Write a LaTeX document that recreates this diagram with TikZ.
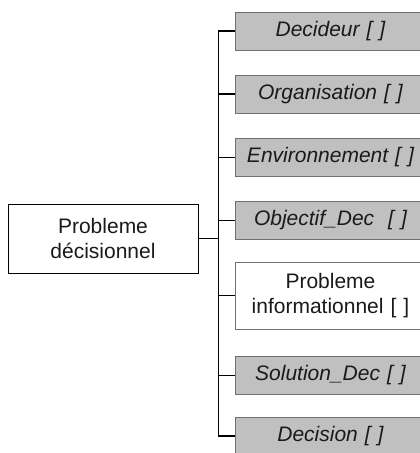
\documentclass[tikz,border=0pt]{standalone}
\usepackage{fontspec}
\setmainfont{Liberation Sans}
\definecolor{boxgray}{HTML}{C0C0C0}
\definecolor{edgegray}{HTML}{707070}
\definecolor{txt}{HTML}{1A1A1A}
\tikzset{
  base/.style={draw=edgegray, line width=0.9pt, inner sep=0pt, align=center,
    text=txt, font=\fontsize{21}{25}\selectfont},
  graybox/.style={base, fill=boxgray, anchor=west, minimum width=190pt,
    minimum height=38pt, font=\fontsize{21}{25}\selectfont\itshape, text width=186pt},
  whitebox/.style={base, fill=white, anchor=west, minimum width=190pt,
    minimum height=67pt, text width=186pt},
  rootbox/.style={base, draw=black, fill=white, minimum width=190pt, minimum height=69pt},
  link/.style={draw=black, line width=1.4pt}
}
\begin{document}
\begin{tikzpicture}[x=1pt,y=-1pt]
\clip (0,0) rectangle (420,453);
\fill[white] (0,0) rectangle (420,453);
\node[rootbox] (root) at (103,238.5) {Probleme\\décisionnel};
\node[graybox] (n1) at (235,31) {Decideur [ ]};
\node[graybox] (n2) at (235,94) {Organisation [ ]};
\node[graybox] (n3) at (235,157.5) {Environnement [ ]};
\node[graybox] (n4) at (235,220.5) {Objectif\_Dec\ \ [ ]};
\node[whitebox] (n5) at (235,295.5) {Probleme\\informationnel [ ]};
\node[graybox] (n6) at (235,375.5) {Solution\_Dec [ ]};
\node[graybox] (n7) at (235,436) {Decision [ ]};
\draw[link] (root.east) -- ++(20,0) coordinate (j);
\foreach \n in {n1,n2,n3,n4,n5,n6,n7}{
  \draw[link] (j) |- (\n.west);
}
\end{tikzpicture}
\end{document}
